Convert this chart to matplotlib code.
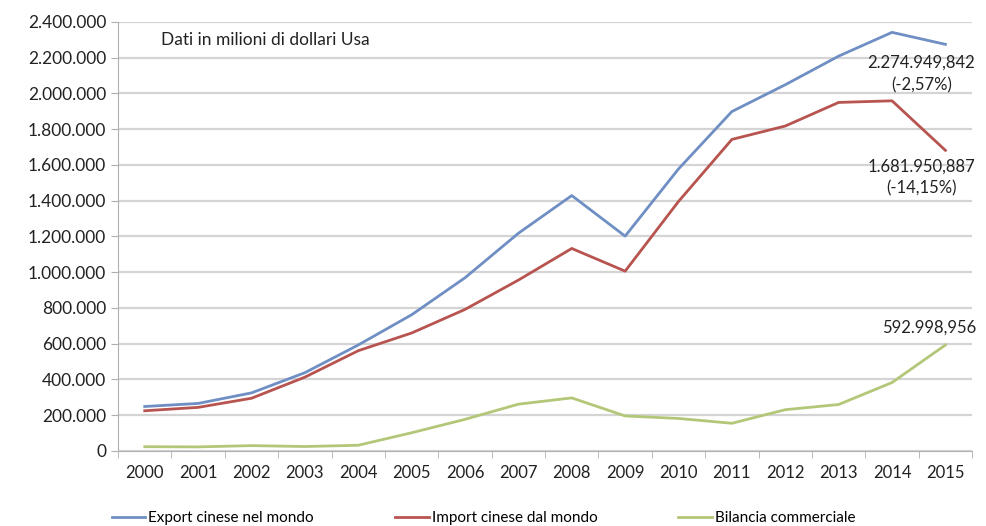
import numpy as np
import matplotlib.pyplot as plt
from matplotlib.ticker import FuncFormatter

# dati (milioni di dollari Usa)
anni = [str(a) for a in range(2000, 2016)]
export_cina = [249000, 266000, 325000, 438000, 593000, 762000, 969000, 1218000,
               1429000, 1202000, 1578000, 1899000, 2049000, 2209000, 2342000, 2274950]
import_cina = [225000, 244000, 295000, 413000, 561000, 660000, 792000, 956000,
               1133000, 1006000, 1396000, 1743000, 1818000, 1950000, 1959000, 1681951]
bilancia = [24000, 23000, 30000, 25000, 32000, 102000, 177000, 262000,
            297000, 196000, 182000, 155000, 231000, 260000, 383000, 592999]

plt.rcParams['font.family'] = ['Lato', 'DejaVu Sans']

fig = plt.figure(figsize=(9.87, 5.26), dpi=100)
ax = fig.add_axes([0.1196, 0.1426, 0.8653, 0.8156])

x = np.arange(len(anni))
l1, = ax.plot(x, export_cina, color='#6f8fc4', lw=2, label='Export cinese nel mondo')
l2, = ax.plot(x, import_cina, color='#b8544f', lw=2, label='Import cinese dal mondo')
l3, = ax.plot(x, bilancia, color='#b3c778', lw=2, label='Bilancia commerciale')

ax.set_xlim(-0.5, len(anni) - 0.5)
ax.set_ylim(0, 2400000)
ax.set_yticks(np.arange(0, 2400001, 200000))
ax.yaxis.set_major_formatter(FuncFormatter(lambda v, p: f'{int(v):,}'.replace(',', '.')))
ax.set_xticks(x)
ax.set_xticklabels(anni)
ax.set_xticks(np.arange(-0.5, len(anni), 1), minor=True)
ax.tick_params(axis='x', which='major', length=0, pad=10, labelsize=12, colors='#222222')
ax.tick_params(axis='x', which='minor', length=5, color='#b0b0b0')
ax.tick_params(axis='y', length=5, color='#b0b0b0', labelsize=12.5, labelcolor='#222222')

ax.grid(axis='y', color='#d4d4d4', lw=1.6)
ax.set_axisbelow(True)
for s in ['top', 'right']:
    ax.spines[s].set_visible(False)
ax.spines['left'].set_color('#b0b0b0')
ax.spines['bottom'].set_color('#b0b0b0')

ax.text(0.3, 2270000, 'Dati in milioni di dollari Usa', fontsize=12.5, color='#222222')
ax.text(14.55, 2110000, '2.274.949,842\n(-2,57%)', fontsize=12, ha='center', va='center',
        linespacing=1.5, color='#222222')
ax.text(14.55, 1530000, '1.681.950,887\n(-14,15%)', fontsize=12, ha='center', va='center',
        linespacing=1.5, color='#222222')
ax.text(14.7, 690000, '592.998,956', fontsize=12, ha='center', va='center', color='#222222')

fig.legend(handles=[l1, l2, l3], loc='lower center', bbox_to_anchor=(0.49, -0.025), ncol=3,
           frameon=False, fontsize=11, handlelength=2.2, handletextpad=0.2, columnspacing=5.3)

fig.savefig('out.png', dpi=100)
